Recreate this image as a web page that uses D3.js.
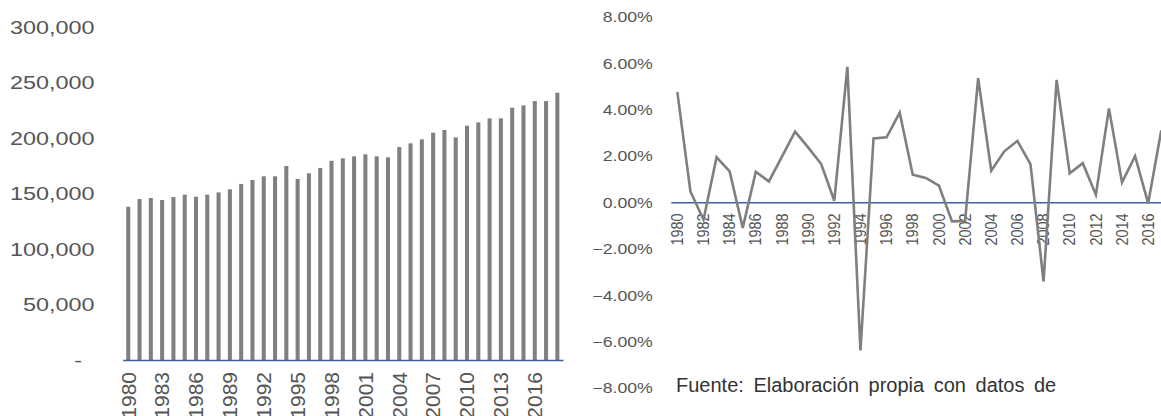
<!DOCTYPE html>
<html>
<head>
<meta charset="utf-8">
<script src="https://cdn.jsdelivr.net/npm/d3@7"></script>
<style>
  html, body { margin: 0; padding: 0; background: #fff; overflow: hidden; }
  svg { display: block; font-family: "Liberation Sans", Arial, sans-serif; }
</style>
</head>
<body>
<svg id="chart" width="1161" height="416"></svg>
<script>
// ---- Data ----
const barYears = d3.range(1980, 2019);
const barValues = [138100, 145000, 146000, 144100, 146800, 148900, 147100, 148900, 151000, 153800,
  158600, 162200, 165500, 165500, 174800, 163100, 168200, 173000, 179500, 181700,
  183500, 185300, 183500, 182600, 191900, 195200, 198800, 204800, 207200, 200600,
  211100, 214100, 217700, 217700, 227300, 229400, 233300, 233300, 240800];
const barYTicks = [0, 50000, 100000, 150000, 200000, 250000, 300000];
const barXTicks = [1980, 1983, 1986, 1989, 1992, 1995, 1998, 2001, 2004, 2007, 2010, 2013, 2016];

const lineYears = d3.range(1980, 2018);
const lineValues = [4.75, 0.47, -0.75, 1.94, 1.33, -1.10, 1.32, 0.90, 1.97, 3.05,
  2.37, 1.65, 0.07, 5.84, -6.38, 2.75, 2.80, 3.87, 1.19, 1.05,
  0.72, -0.82, -0.80, 5.35, 1.36, 2.20, 2.65, 1.65, -3.41, 5.28,
  1.25, 1.69, 0.33, 4.05, 0.86, 1.99, -0.04, 3.10];
const lineYTicks = [-8, -6, -4, -2, 0, 2, 4, 6, 8];
const lineXTicks = d3.range(1980, 2018, 2);

const sourceText = "Fuente: Elaboración propia con datos de";

// ---- Styles ----
const textColor = "#555555";
const barColor = "#808080";
const axisBlue = "#3f5fa8";
const fontFam = "Liberation Sans, Arial, sans-serif";

const svg = d3.select("#chart");

// ===== Left chart: bars =====
const xB = d3.scaleBand().domain(barYears).range([122.6, 563]).paddingInner(0.64).paddingOuter(0.32);
const yB = d3.scaleLinear().domain([0, 300000]).range([360, 27]);

svg.append("g").selectAll("rect").data(barYears).join("rect")
  .attr("x", (d) => xB(d))
  .attr("width", xB.bandwidth())
  .attr("y", (d, i) => yB(barValues[i]))
  .attr("height", (d, i) => yB(0) - yB(barValues[i]))
  .attr("fill", barColor);

// left y axis
const gyB = svg.append("g").attr("transform", "translate(122.6,0)")
  .call(d3.axisLeft(yB).tickValues(barYTicks).tickSize(0).tickPadding(0)
    .tickFormat((d) => d === 0 ? "-" : d3.format(",")(d)));
gyB.select(".domain").remove();
gyB.selectAll("text")
  .attr("x", 0).attr("dy", "0.34em")
  .attr("transform", (d) => `translate(${d === 0 ? -40.5 : -28},0) scale(1.3,1)`)
  .style("font-size", "18px").style("fill", textColor).style("font-family", fontFam);

// left x axis
const gxB = svg.append("g").attr("transform", `translate(0,${yB(0)})`)
  .call(d3.axisBottom(xB).tickValues(barXTicks).tickSize(0).tickSizeOuter(0));
gxB.select(".domain").attr("stroke", axisBlue).attr("stroke-width", 1.5);
gxB.selectAll("text")
  .attr("x", -12).attr("y", 0).attr("dy", "0.35em")
  .attr("transform", "rotate(-90)")
  .style("text-anchor", "end")
  .style("font-size", "21px").style("fill", textColor).style("font-family", fontFam);

// ===== Right chart: line =====
const xL = d3.scaleBand().domain(lineYears).range([670.8, 1167.8]);
const yL = d3.scaleLinear().domain([-8, 8]).range([388, 16.7]);

// right y axis
const gyL = svg.append("g").attr("transform", "translate(670.8,0)")
  .call(d3.axisLeft(yL).tickValues(lineYTicks).tickSize(0).tickPadding(0)
    .tickFormat((d) => d3.format(".2f")(d) + "%"));
gyL.select(".domain").remove();
gyL.selectAll("text")
  .attr("x", 0).attr("dy", "0.34em")
  .attr("transform", "translate(-18,0) scale(1.22,1)")
  .style("font-size", "14.5px").style("fill", textColor).style("font-family", fontFam);

// right x axis at zero
const gxL = svg.append("g").attr("transform", `translate(0,${yL(0)})`)
  .call(d3.axisBottom(xL).tickValues(lineXTicks).tickSize(0).tickSizeOuter(0));
gxL.select(".domain").attr("stroke", axisBlue).attr("stroke-width", 1.5);
gxL.selectAll("text")
  .attr("x", -11).attr("y", 0).attr("dy", "0.35em")
  .attr("transform", "rotate(-90) scale(1,1.12)")
  .style("text-anchor", "end")
  .style("font-size", "14.5px").style("fill", textColor).style("font-family", fontFam);

// line
const line = d3.line()
  .x((d, i) => xL(lineYears[i]) + xL.bandwidth() / 2)
  .y((d) => yL(d));
svg.append("path").datum(lineValues)
  .attr("d", line)
  .attr("fill", "none")
  .attr("stroke", "#7f7f7f")
  .attr("stroke-width", 2.6)
  .attr("stroke-linejoin", "miter");

// source text
svg.append("text")
  .attr("x", 676).attr("y", 392)
  .style("font-size", "20px")
  .style("word-spacing", "4px")
  .style("fill", "#333333")
  .style("font-family", fontFam)
  .text(sourceText);
</script>
</body>
</html>
